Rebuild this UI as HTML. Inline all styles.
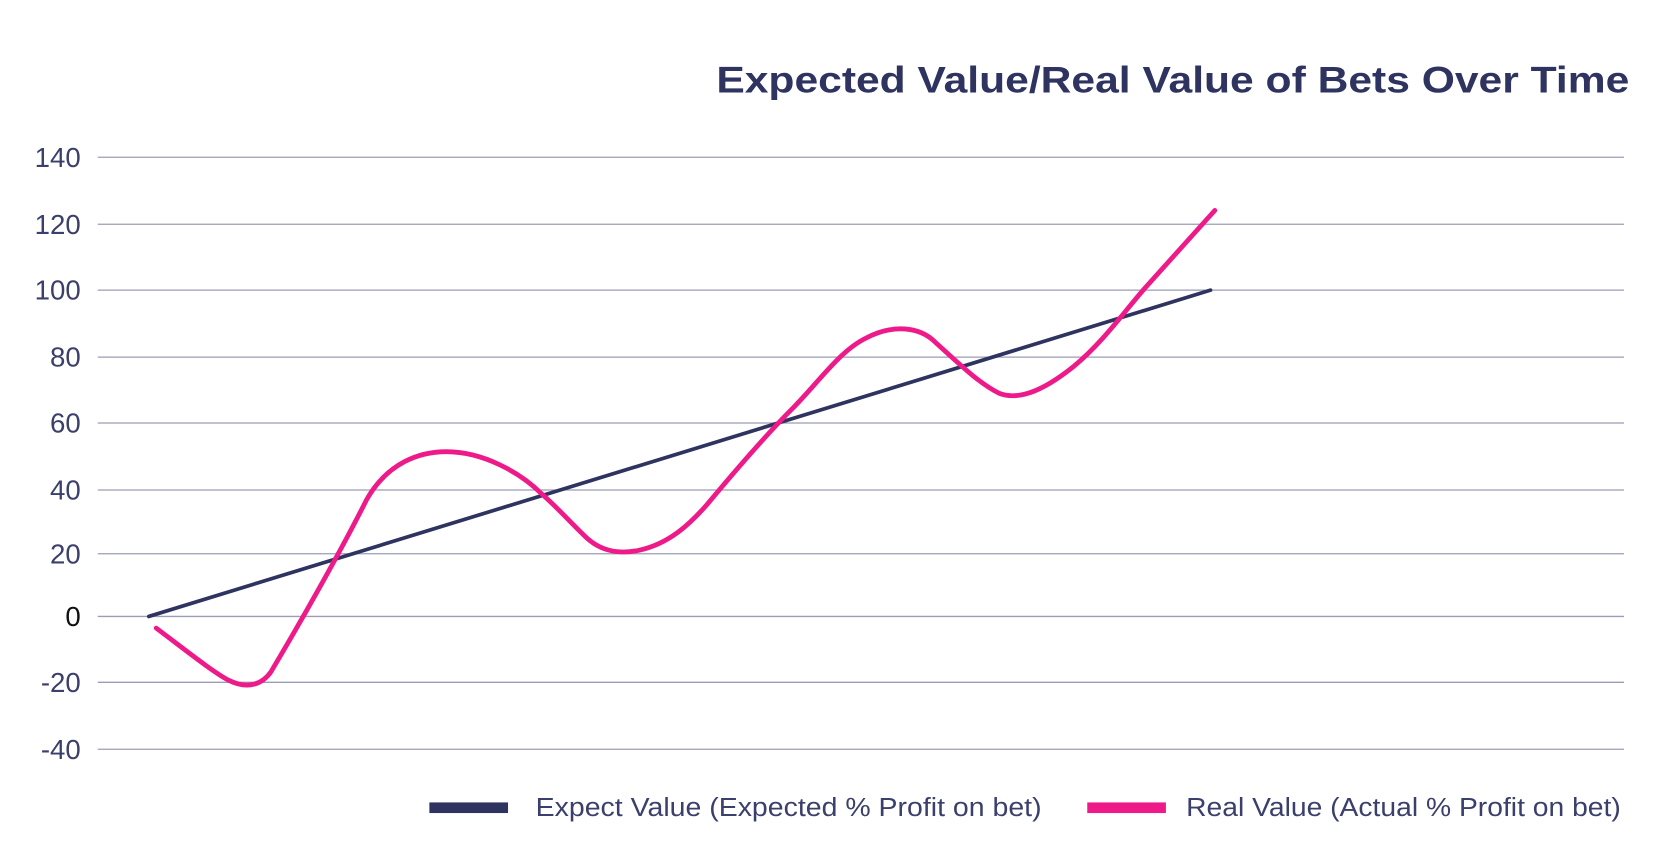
<!DOCTYPE html>
<html><head><meta charset="utf-8"><style>
html,body{margin:0;padding:0;background:#fff;}
svg{display:block;}
</style></head><body>
<svg width="1658" height="863" viewBox="0 0 1560 812" preserveAspectRatio="none" xmlns="http://www.w3.org/2000/svg">
<rect width="1560" height="812" fill="#fff"/>
<text x="674" y="87" textLength="859" lengthAdjust="spacingAndGlyphs" font-family="Liberation Sans, sans-serif" font-weight="bold" font-size="35" fill="#2e3360">Expected Value/Real Value of Bets Over Time</text>
<g stroke="#9c9cb5" stroke-width="1.2">
<line x1="92" x2="1528" y1="148" y2="148"/>
<line x1="92" x2="1528" y1="211" y2="211"/>
<line x1="92" x2="1528" y1="273" y2="273"/>
<line x1="92" x2="1528" y1="336" y2="336"/>
<line x1="92" x2="1528" y1="398" y2="398"/>
<line x1="92" x2="1528" y1="461" y2="461"/>
<line x1="92" x2="1528" y1="521" y2="521"/>
<line x1="92" x2="1528" y1="580" y2="580"/>
<line x1="92" x2="1528" y1="642" y2="642"/>
<line x1="92" x2="1528" y1="705" y2="705"/>
</g>
<g font-family="Liberation Sans, sans-serif" font-size="26" fill="#3a3f6b" text-anchor="end">
<text x="76" y="157">140</text>
<text x="76" y="220">120</text>
<text x="76" y="282">100</text>
<text x="76" y="345">80</text>
<text x="76" y="407">60</text>
<text x="76" y="470">40</text>
<text x="76" y="530">20</text>
<text x="76" y="589" fill="#111">0</text>
<text x="76" y="651">-20</text>
<text x="76" y="714">-40</text>
</g>
<line x1="140" y1="580" x2="1139" y2="273" stroke="#2e3360" stroke-width="3.5" stroke-linecap="round"/>
<path d="M147,591 C175,612 200,632 215,640 C235,650 248,642 255,632 C280,590 320,520 345,470 C365,435 395,425 420,425 C455,425 490,445 510,465 C525,478 540,495 553,507 C570,522 590,520 600,518 C630,512 650,492 665,475 C690,445 720,410 745,385 C770,360 790,330 815,318 C840,305 865,307 880,322 C900,340 920,360 940,370 C960,378 985,365 1010,345 C1040,320 1060,290 1080,268 L1143,198" fill="none" stroke="#ee1a8a" stroke-width="4.5" stroke-linecap="round"/>
<rect x="404" y="755" width="74" height="10" fill="#2e3360"/>
<text x="504" y="768" textLength="476" lengthAdjust="spacingAndGlyphs" font-family="Liberation Sans, sans-serif" font-size="24" fill="#3a3f6b">Expect Value (Expected % Profit on bet)</text>
<rect x="1023" y="755" width="74" height="10" fill="#ee1a8a"/>
<text x="1116" y="768" textLength="409" lengthAdjust="spacingAndGlyphs" font-family="Liberation Sans, sans-serif" font-size="24" fill="#3a3f6b">Real Value (Actual % Profit on bet)</text>
</svg>
</body></html>
